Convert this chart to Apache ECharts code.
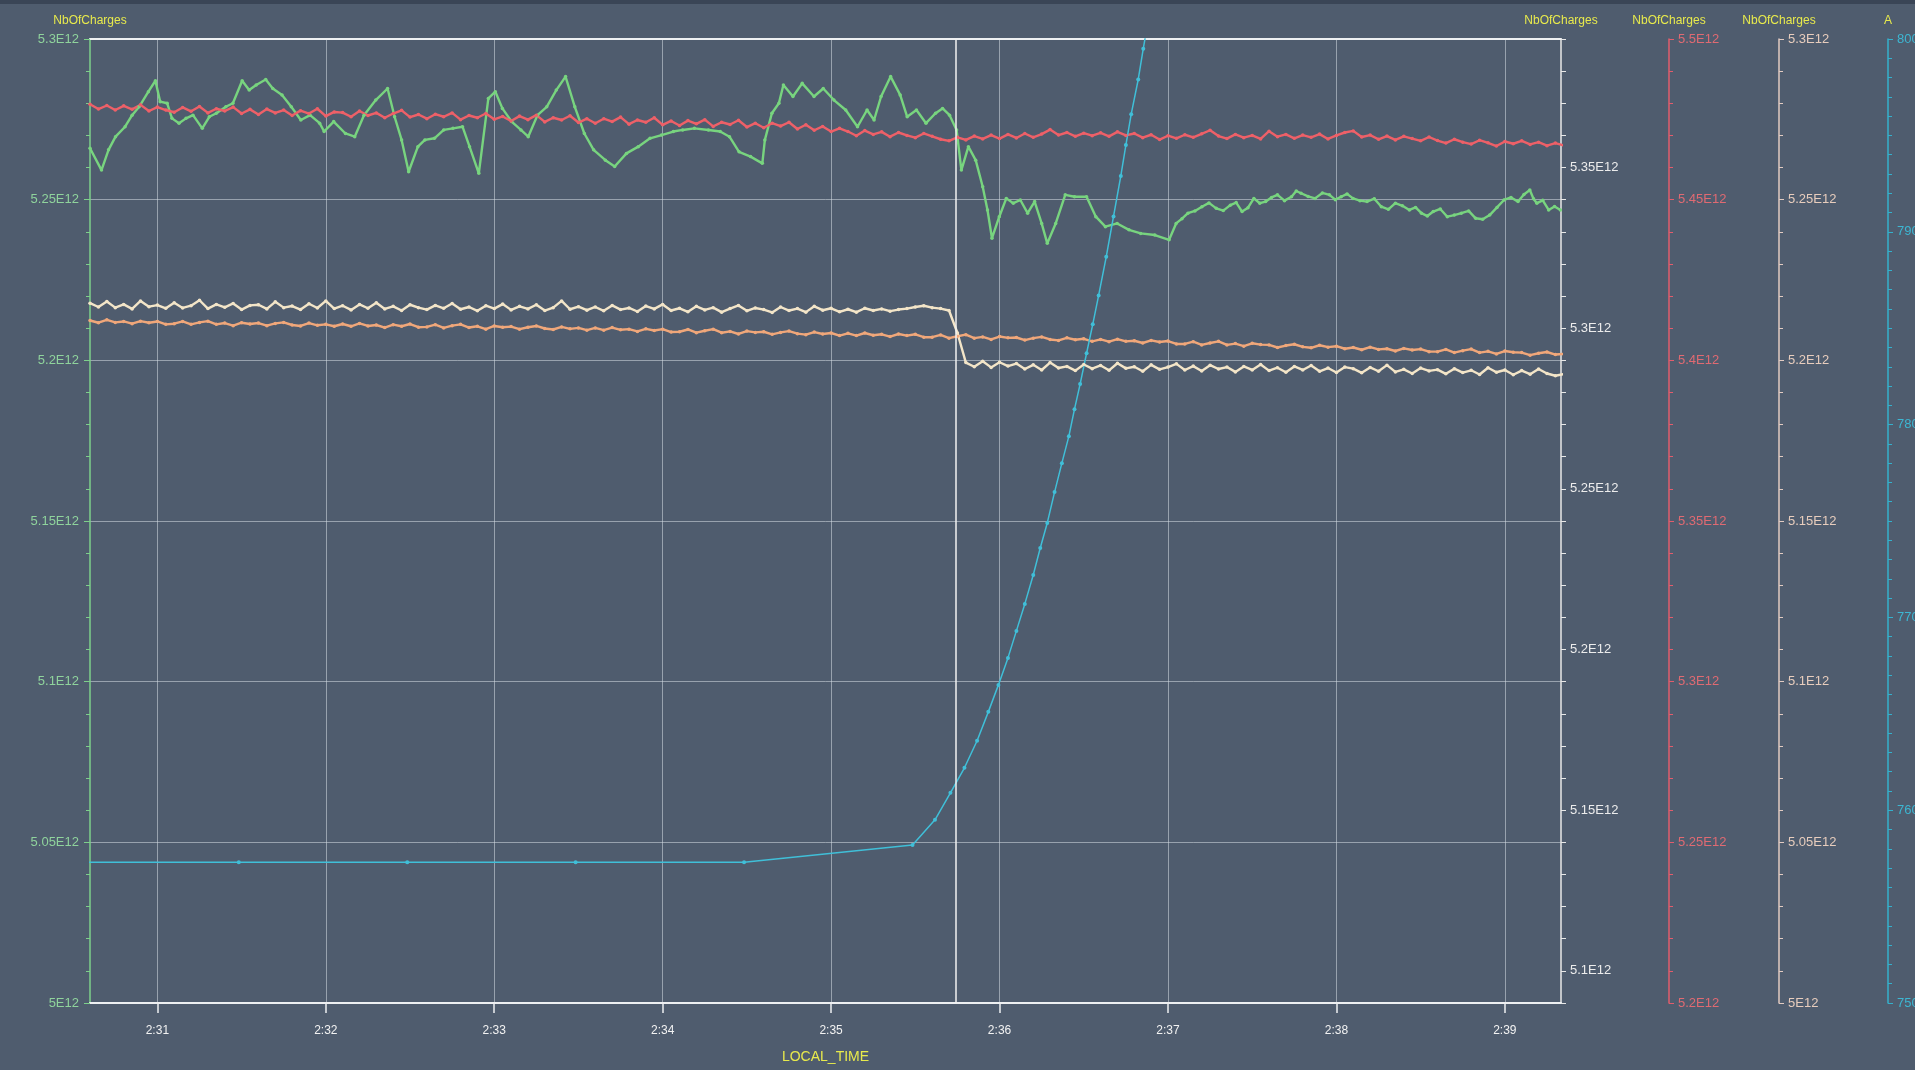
<!DOCTYPE html>
<html>
<head>
<meta charset="utf-8">
<title>NbOfCharges / LOCAL_TIME</title>
<script src="https://cdn.jsdelivr.net/npm/echarts@6/dist/echarts.min.js"></script>
<style>
  html, body { margin: 0; padding: 0; background: #4f5c6e; }
  #chart { width: 1915px; height: 1070px; }
</style>
</head>
<body>
<div id="chart"></div>
<script>
// x values are seconds after 02:30:00, y values of NbOfCharges are in units of 1E12

// x axis ticks
const xTickLabels = ['2:31', '2:32', '2:33', '2:34', '2:35', '2:36', '2:37', '2:38', '2:39']
const xMin = 36   // 2:30:36
const xMax = 560  // 2:39:20
const cursorTime = '2:35:44.5'

// green trace (left axis)
const greenTime = [
  36.0, 40.1, 42.6, 45.1, 48.5, 51.0, 53.5, 56.8, 59.3, 61.0, 63.5, 65.2, 67.7, 70.2, 72.7, 76.0, 78.5, 81.0, 84.4, 86.9,
  90.2, 92.7, 95.2, 98.6, 101.1, 104.4, 107.7, 111.1, 114.4, 117.8, 119.4, 122.8, 127.0, 130.3, 133.6, 137.8, 142.0, 144.5, 147.0, 149.5,
  152.8, 155.3, 158.7, 162.0, 165.3, 168.7, 171.2, 174.5, 177.9, 180.4, 182.9, 186.2, 189.5, 192.1, 195.4, 198.7, 202.1, 205.4, 208.7, 212.1,
  215.4, 219.6, 222.9, 227.1, 231.3, 235.5, 239.6, 243.8, 247.1, 251.3, 256.3, 260.5, 263.8, 267.2, 271.3, 275.5, 276.4, 278.9, 281.4, 283.0,
  286.4, 289.7, 293.9, 297.2, 301.0, 305.2, 309.4, 312.8, 315.3, 317.8, 321.2, 324.6, 327.1, 330.4, 333.8, 337.2, 339.7, 342.2, 344.7, 346.4,
  348.9, 351.5, 354.0, 355.7, 357.3, 359.9, 362.4, 364.9, 367.4, 370.0, 372.5, 375.0, 377.0, 380.0, 383.4, 386.7, 391.0, 394.3, 397.7, 401.9,
  406.1, 410.3, 415.3, 420.4, 422.9, 425.0, 427.1, 429.6, 432.1, 434.6, 437.2, 439.7, 442.2, 444.3, 446.4, 448.5, 450.6, 452.7, 454.8, 456.9,
  459.0, 461.5, 464.0, 465.7, 467.4, 469.9, 472.4, 475.0, 477.5, 479.6, 481.7, 483.8, 485.9, 488.4, 490.9, 493.5, 496.0, 498.5, 501.0, 503.5,
  506.0, 508.2, 510.3, 512.4, 514.5, 517.0, 519.5, 522.0, 524.5, 527.1, 529.6, 532.1, 534.6, 537.2, 539.7, 542.2, 544.7, 546.8, 548.9, 550.2,
  551.4, 553.5, 555.6, 557.7, 559.8
]
const greenValue = [
  5.2660, 5.2592, 5.2655, 5.2696, 5.2727, 5.2763, 5.2789, 5.2836, 5.2870, 5.2805, 5.2800, 5.2753, 5.2738, 5.2753, 5.2763, 5.2722, 5.2758, 5.2769, 5.2789, 5.2800,
  5.2870, 5.2841, 5.2857, 5.2874, 5.2846, 5.2826, 5.2789, 5.2748, 5.2763, 5.2738, 5.2712, 5.2743, 5.2706, 5.2696, 5.2763, 5.2810, 5.2846, 5.2758, 5.2686, 5.2587,
  5.2665, 5.2686, 5.2691, 5.2717, 5.2722, 5.2727, 5.2665, 5.2582, 5.2815, 5.2836, 5.2784, 5.2743, 5.2717, 5.2696, 5.2763, 5.2789, 5.2841, 5.2883, 5.2789, 5.2706,
  5.2655, 5.2623, 5.2603, 5.2644, 5.2665, 5.2691, 5.2701, 5.2712, 5.2717, 5.2722, 5.2717, 5.2712, 5.2696, 5.2649, 5.2634, 5.2613, 5.2686, 5.2769, 5.2800, 5.2857,
  5.2821, 5.2862, 5.2821, 5.2846, 5.2810, 5.2779, 5.2727, 5.2779, 5.2748, 5.2821, 5.2883, 5.2826, 5.2758, 5.2779, 5.2738, 5.2769, 5.2784, 5.2763, 5.2717, 5.2592,
  5.2665, 5.2623, 5.2540, 5.2468, 5.2380, 5.2447, 5.2504, 5.2489, 5.2499, 5.2458, 5.2494, 5.2426, 5.2364, 5.2426, 5.2515, 5.2509, 5.2509, 5.2447, 5.2416, 5.2426,
  5.2406, 5.2395, 5.2390, 5.2375, 5.2426, 5.2441, 5.2458, 5.2465, 5.2478, 5.2490, 5.2473, 5.2466, 5.2483, 5.2491, 5.2463, 5.2475, 5.2504, 5.2489, 5.2494, 5.2507,
  5.2515, 5.2497, 5.2509, 5.2527, 5.2520, 5.2510, 5.2504, 5.2521, 5.2515, 5.2500, 5.2509, 5.2518, 5.2504, 5.2497, 5.2494, 5.2503, 5.2478, 5.2470, 5.2489, 5.2481,
  5.2468, 5.2476, 5.2458, 5.2449, 5.2463, 5.2471, 5.2447, 5.2452, 5.2458, 5.2465, 5.2442, 5.2439, 5.2452, 5.2476, 5.2499, 5.2507, 5.2494, 5.2516, 5.2530, 5.2503,
  5.2489, 5.2498, 5.2468, 5.2479, 5.2468
]

// red, cream and orange traces share one sample clock: every 3 s from 2:30:36
const sampleStart = 36
const sampleStep = 3

// red trace (red axis, 5.2E12 .. 5.5E12)
const redValue = [
  5.4797, 5.4782, 5.4793, 5.4779, 5.4792, 5.4781, 5.4795, 5.4776, 5.4788, 5.4779,
  5.4772, 5.4787, 5.4775, 5.4790, 5.4770, 5.4783, 5.4776, 5.4788, 5.4768, 5.4781,
  5.4765, 5.4782, 5.4770, 5.4779, 5.4762, 5.4777, 5.4768, 5.4783, 5.4760, 5.4773,
  5.4771, 5.4758, 5.4776, 5.4762, 5.4770, 5.4755, 5.4768, 5.4778, 5.4757, 5.4765,
  5.4752, 5.4766, 5.4758, 5.4770, 5.4749, 5.4762, 5.4755, 5.4768, 5.4750, 5.4759,
  5.4745, 5.4760, 5.4749, 5.4763, 5.4742, 5.4755, 5.4748, 5.4761, 5.4740, 5.4752,
  5.4738, 5.4752, 5.4743, 5.4757, 5.4735, 5.4748, 5.4741, 5.4755, 5.4733, 5.4745,
  5.4731, 5.4746, 5.4736, 5.4749, 5.4728, 5.4741, 5.4734, 5.4747, 5.4726, 5.4738,
  5.4724, 5.4738, 5.4729, 5.4741, 5.4720, 5.4733, 5.4716, 5.4728, 5.4712, 5.4722,
  5.4712, 5.4699, 5.4715, 5.4703, 5.4711, 5.4696, 5.4709, 5.4700, 5.4693, 5.4706,
  5.4697, 5.4688, 5.4683, 5.4694, 5.4686, 5.4698, 5.4689, 5.4701, 5.4690, 5.4703,
  5.4692, 5.4706, 5.4694, 5.4704, 5.4718, 5.4701, 5.4709, 5.4697, 5.4707, 5.4699,
  5.4708, 5.4697, 5.4711, 5.4700, 5.4706, 5.4693, 5.4702, 5.4687, 5.4699, 5.4691,
  5.4702, 5.4694, 5.4705, 5.4716, 5.4698, 5.4690, 5.4703, 5.4693, 5.4700, 5.4689,
  5.4713, 5.4696, 5.4703, 5.4691, 5.4701, 5.4694, 5.4704, 5.4689, 5.4700, 5.4709,
  5.4714, 5.4695, 5.4701, 5.4688, 5.4698, 5.4686, 5.4697, 5.4690, 5.4683, 5.4695,
  5.4684, 5.4676, 5.4688, 5.4679, 5.4673, 5.4685, 5.4677, 5.4667, 5.4681, 5.4674,
  5.4683, 5.4672, 5.4679, 5.4668, 5.4676, 5.4669
]

// cream trace (white right axis, 5.09E12 .. 5.39E12)
const creamValue = [
  5.3078, 5.3066, 5.3083, 5.3064, 5.3074, 5.3060, 5.3085, 5.3067, 5.3072, 5.3062,
  5.3079, 5.3063, 5.3070, 5.3087, 5.3061, 5.3074, 5.3065, 5.3077, 5.3058, 5.3071,
  5.3073, 5.3060, 5.3082, 5.3064, 5.3069, 5.3058, 5.3076, 5.3063, 5.3085, 5.3061,
  5.3070, 5.3057, 5.3074, 5.3062, 5.3079, 5.3060, 5.3068, 5.3055, 5.3073, 5.3064,
  5.3058, 5.3071, 5.3062, 5.3077, 5.3059, 5.3066, 5.3054, 5.3070, 5.3061, 5.3075,
  5.3057, 5.3068, 5.3060, 5.3073, 5.3055, 5.3064, 5.3085, 5.3059, 5.3067, 5.3056,
  5.3066, 5.3054, 5.3071, 5.3058, 5.3063, 5.3052, 5.3069, 5.3060, 5.3074, 5.3055,
  5.3062, 5.3051, 5.3068, 5.3057, 5.3064, 5.3050, 5.3061, 5.3071, 5.3054, 5.3063,
  5.3058, 5.3049, 5.3066, 5.3055, 5.3061, 5.3050, 5.3068, 5.3056, 5.3062, 5.3051,
  5.3059, 5.3050, 5.3062, 5.3055, 5.3060, 5.3053, 5.3058, 5.3061, 5.3066, 5.3070,
  5.3064, 5.3061, 5.3055, 5.2985, 5.2893, 5.2880, 5.2897, 5.2878, 5.2894, 5.2882,
  5.2890, 5.2873, 5.2886, 5.2870, 5.2893, 5.2876, 5.2881, 5.2868, 5.2887, 5.2874,
  5.2884, 5.2869, 5.2891, 5.2875, 5.2880, 5.2866, 5.2886, 5.2872, 5.2879, 5.2889,
  5.2870, 5.2882, 5.2867, 5.2885, 5.2873, 5.2879, 5.2864, 5.2881, 5.2870, 5.2887,
  5.2868, 5.2877, 5.2863, 5.2881, 5.2870, 5.2884, 5.2866, 5.2876, 5.2862, 5.2879,
  5.2874, 5.2861, 5.2878, 5.2866, 5.2885, 5.2864, 5.2872, 5.2859, 5.2876, 5.2867,
  5.2871, 5.2858, 5.2874, 5.2862, 5.2869, 5.2856, 5.2877, 5.2863, 5.2870, 5.2855,
  5.2868, 5.2857, 5.2873, 5.2859, 5.2852, 5.2857
]

// orange trace (beige axis, 5E12 .. 5.3E12)
const orangeValue = [
  5.2124, 5.2117, 5.2126, 5.2118, 5.2121, 5.2114, 5.2122, 5.2117, 5.2121, 5.2112,
  5.2114, 5.2121, 5.2112, 5.2118, 5.2122, 5.2112, 5.2116, 5.2108, 5.2117, 5.2113,
  5.2116, 5.2108, 5.2115, 5.2118, 5.2110, 5.2107, 5.2116, 5.2109, 5.2112, 5.2106,
  5.2113, 5.2106, 5.2115, 5.2107, 5.2110, 5.2102, 5.2111, 5.2106, 5.2113, 5.2103,
  5.2104, 5.2111, 5.2101, 5.2108, 5.2112, 5.2102, 5.2106, 5.2097, 5.2107, 5.2103,
  5.2105, 5.2097, 5.2103, 5.2107, 5.2099, 5.2096, 5.2104, 5.2098, 5.2101, 5.2094,
  5.2101, 5.2094, 5.2102, 5.2095, 5.2097, 5.2090, 5.2098, 5.2093, 5.2097, 5.2088,
  5.2089, 5.2096, 5.2086, 5.2092, 5.2097, 5.2086, 5.2090, 5.2082, 5.2091, 5.2087,
  5.2089, 5.2081, 5.2087, 5.2091, 5.2083, 5.2080, 5.2088, 5.2082, 5.2085, 5.2077,
  5.2084, 5.2077, 5.2085, 5.2078, 5.2081, 5.2074, 5.2082, 5.2077, 5.2081, 5.2072,
  5.2072, 5.2079, 5.2069, 5.2075, 5.2080, 5.2069, 5.2073, 5.2065, 5.2074, 5.2070,
  5.2071, 5.2063, 5.2069, 5.2073, 5.2065, 5.2062, 5.2070, 5.2064, 5.2067, 5.2059,
  5.2065, 5.2058, 5.2066, 5.2059, 5.2061, 5.2054, 5.2062, 5.2057, 5.2060, 5.2051,
  5.2051, 5.2058, 5.2048, 5.2054, 5.2059, 5.2048, 5.2052, 5.2044, 5.2053, 5.2049,
  5.2048, 5.2040, 5.2046, 5.2050, 5.2042, 5.2039, 5.2047, 5.2041, 5.2044, 5.2036,
  5.2040, 5.2033, 5.2041, 5.2034, 5.2036, 5.2029, 5.2037, 5.2032, 5.2035, 5.2027,
  5.2027, 5.2034, 5.2024, 5.2030, 5.2035, 5.2024, 5.2028, 5.2020, 5.2029, 5.2025,
  5.2024, 5.2016, 5.2022, 5.2026, 5.2018, 5.2020
]

// cyan trace (current, A axis 750 .. 800)
const cyanTime = [
  29, 89, 149, 209, 269, 329, 337, 342.5, 347.5, 352, 356, 359.6, 363, 366, 369, 372, 374.5, 377,
  379.6, 382.2, 384.7, 386.7, 388.7, 391, 393.2, 395.3, 398, 400.6, 403.2, 405, 406.9, 409.4, 411.2, 413
]
const cyanValue = [
  757.3, 757.3, 757.3, 757.3, 757.3, 758.2, 759.5, 760.9, 762.2, 763.6, 765.1, 766.5, 767.9, 769.3, 770.7, 772.2, 773.6, 774.9,
  776.5, 778.0, 779.4, 780.8, 782.1, 783.7, 785.2, 786.7, 788.7, 790.8, 792.9, 794.5, 796.1, 797.9, 799.5, 801.0
]

// helpers
const toSec = (s) => {
  const p = s.split(':').map(Number)
  return (p[0] * 3600 + p[1] * 60 + (p[2] || 0)) - (2 * 3600 + 30 * 60)
}
const xTickSec = xTickLabels.map(toSec)
const zip = (xs, ys) => ys.map((v, i) => [xs[i], v])
const sampleTimes = redValue.map((_, i) => sampleStart + i * sampleStep)

const FONT = 'Liberation Sans, Arial, sans-serif'
const YELLOW = '#e8ea4c'
const GRID = 'rgba(214, 220, 228, 0.55)'

const e12 = (v) => {
  const r = Math.round(v * 1000) / 1000
  return r + 'E12'
}

const yBase = (opt) => ({
  type: 'value',
  name: 'NbOfCharges',
  nameLocation: 'end',
  nameGap: 12,
  nameTextStyle: { color: YELLOW, fontSize: 12, fontFamily: FONT, align: 'center' },
  nameMoveOverlap: false,
  splitLine: { show: false },
  minorSplitLine: { show: false },
  axisTick: { show: true, length: 5, lineStyle: { color: opt.color } },
  minorTick: { show: true, splitNumber: 5, length: 4, lineStyle: { color: opt.color } },
  axisLine: { show: true, onZero: false, lineStyle: { color: opt.color, width: 1.5 } },
  axisLabel: { color: opt.labelColor, fontSize: 13, fontFamily: FONT, margin: 9, formatter: e12 },
  ...opt.extra
})

// noisy traces: thick line with small dots on every sample
const noisy = (name, axis, data, color) => ({
  name: name,
  type: 'line',
  yAxisIndex: axis,
  data: data,
  symbol: 'circle',
  symbolSize: 3.5,
  showSymbol: true,
  itemStyle: { color: color },
  lineStyle: { color: color, width: 2.4 }
})

const chart = echarts.init(document.getElementById('chart'), null, { renderer: 'canvas' })

const greenSeries = noisy('NbOfCharges green', 0, zip(greenTime, greenValue), '#78d47f')
greenSeries.markLine = {
  silent: true,
  symbol: ['none', 'none'],
  label: { show: false },
  lineStyle: { color: '#f2f2f2', width: 1.5, type: 'solid' },
  data: [{ xAxis: toSec(cursorTime) }]
}

const option = {
  animation: false,
  backgroundColor: '#4f5c6e',
  graphic: [
    { type: 'rect', left: 0, top: 0, shape: { width: 1915, height: 4 }, style: { fill: '#3a4556' }, silent: true }
  ],
  grid: { left: 90, right: 354, top: 39, bottom: 67, containLabel: false, outerBoundsMode: 'none' },
  xAxis: [
    {
      type: 'value',
      min: xMin,
      max: xMax,
      name: 'LOCAL_TIME',
      nameLocation: 'middle',
      nameGap: 47,
      nameTextStyle: { color: YELLOW, fontSize: 14, fontFamily: FONT },
      axisLine: { show: true, onZero: false, lineStyle: { color: '#eef0f2', width: 2 } },
      axisTick: { show: true, length: 10, customValues: xTickSec, lineStyle: { color: '#eef0f2', width: 1.5 } },
      axisLabel: {
        show: true, color: '#f2f2f2', fontSize: 12, fontFamily: FONT, margin: 22,
        customValues: xTickSec,
        formatter: (v) => xTickLabels[xTickSec.indexOf(v)] || ''
      },
      splitLine: { show: true, lineStyle: { color: GRID, width: 1 } }
    },
    {
      type: 'value',
      position: 'top',
      min: xMin,
      max: xMax,
      axisLine: { show: true, onZero: false, lineStyle: { color: '#eef0f2', width: 2 } },
      axisTick: { show: false },
      axisLabel: { show: false },
      splitLine: { show: false }
    }
  ],
  yAxis: [
    yBase({
      color: '#7dd08b', labelColor: '#8fd39c',
      extra: {
        position: 'left', min: 5.0, max: 5.3, interval: 0.05,
        axisLabel: { color: '#8fd39c', fontSize: 13, fontFamily: FONT, margin: 11, formatter: e12 },
        axisTick: { show: true, length: 6, lineStyle: { color: '#7dd08b' } },
        splitLine: { show: true, lineStyle: { color: GRID, width: 1 } }
      }
    }),
    yBase({
      color: '#e8e8e8', labelColor: '#ececec',
      extra: {
        position: 'right', offset: 0, min: 5.09, max: 5.39, interval: 0.01,
        minorTick: { show: false },
        axisLabel: {
          color: '#ececec', fontSize: 13, fontFamily: FONT, margin: 9,
          formatter: (v) => Math.abs(v * 20 - Math.round(v * 20)) < 1e-6 ? e12(v) : ''
        }
      }
    }),
    yBase({
      color: '#e25c6c', labelColor: '#e06a72',
      extra: { position: 'right', offset: 108, min: 5.2, max: 5.5, interval: 0.05 }
    }),
    yBase({
      color: '#e2cbc2', labelColor: '#e8cdbd',
      extra: { position: 'right', offset: 218, min: 5.0, max: 5.3, interval: 0.05 }
    }),
    yBase({
      color: '#34b0cc', labelColor: '#3db6d2',
      extra: {
        name: 'A', position: 'right', offset: 327, min: 750, max: 800, interval: 10,
        minorTick: { show: true, splitNumber: 10, length: 4, lineStyle: { color: '#34b0cc' } },
        axisLabel: { color: '#3db6d2', fontSize: 13, fontFamily: FONT, margin: 9 }
      }
    })
  ],
  series: [
    greenSeries,
    noisy('NbOfCharges red', 2, zip(sampleTimes, redValue), '#ee6068'),
    noisy('NbOfCharges orange', 3, zip(sampleTimes, orangeValue), '#f0a77a'),
    noisy('NbOfCharges cream', 1, zip(sampleTimes, creamValue), '#f3e5c8'),
    {
      name: 'A',
      type: 'line',
      yAxisIndex: 4,
      data: zip(cyanTime, cyanValue),
      symbol: 'circle',
      symbolSize: 4,
      itemStyle: { color: '#40bfd8' },
      lineStyle: { color: '#40bfd8', width: 1.5 }
    }
  ]
}

chart.setOption(option)
</script>
</body>
</html>
